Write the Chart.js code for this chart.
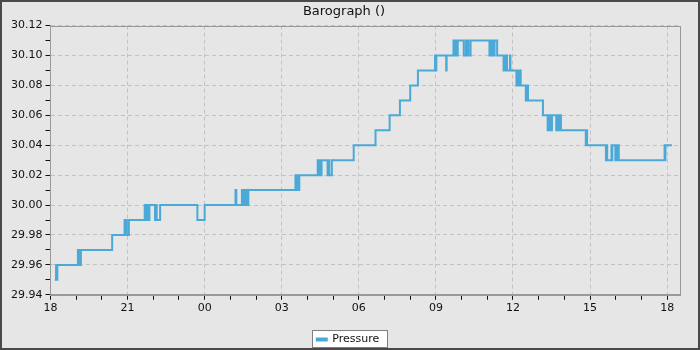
<!DOCTYPE html>
<html>
<head>
<meta charset="utf-8">
<title>Barograph</title>
<script src="https://cdn.jsdelivr.net/npm/chart.js@4/dist/chart.umd.min.js"></script>
<style>
  html, body { margin: 0; padding: 0; background: #e6e6e6; }
  canvas { display: block; }
</style>
</head>
<body>
<canvas id="baro" width="700" height="350"></canvas>
<script>
// readings (time of day, inHg) - only the points where the value changes
const times = [
  '18:10', '18:13', '18:14', '18:16', '19:04', '19:05', '19:07', '19:09', '19:11', '20:24',
  '20:53', '20:54', '20:56', '20:58', '21:03', '21:40', '21:42', '21:45', '21:47', '21:51',
  '22:04', '22:06', '22:08', '22:16', '23:43', '00:00', '01:12', '01:14', '01:27', '01:28',
  '01:30', '01:31', '01:33', '01:35', '01:36', '01:38', '01:42', '03:32', '03:34', '03:36',
  '03:38', '03:41', '04:24', '04:26', '04:28', '04:30', '04:33', '04:47', '04:49', '04:51',
  '04:57', '05:48', '06:39', '07:12', '07:36', '08:00', '08:18', '08:58', '08:59', '09:01',
  '09:24', '09:25', '09:41', '09:43', '09:45', '09:48', '09:51', '10:05', '10:10', '10:11',
  '10:14', '10:16', '10:21', '11:05', '11:07', '11:10', '11:12', '11:15', '11:17', '11:23',
  '11:38', '11:40', '11:42', '11:44', '11:46', '11:53', '11:54', '12:08', '12:10', '12:12',
  '12:14', '12:18', '12:30', '12:32', '12:35', '13:10', '13:21', '13:23', '13:26', '13:27',
  '13:29', '13:31', '13:41', '13:43', '13:46', '13:48', '13:52', '14:50', '14:51', '14:53',
  '15:37', '15:38', '15:40', '15:50', '15:51', '15:52', '15:59', '16:01', '16:03', '16:05',
  '16:07', '17:54', '17:55', '17:56', '18:11'
];
const pressure = [
  29.95, 29.96, 29.95, 29.96, 29.97, 29.96, 29.97, 29.96, 29.97, 29.98,
  29.99, 29.98, 29.99, 29.98, 29.99, 30.00, 29.99, 30.00, 29.99, 30.00,
  29.99, 30.00, 29.99, 30.00, 29.99, 30.00, 30.01, 30.00, 30.01, 30.00,
  30.01, 30.00, 30.01, 30.00, 30.01, 30.00, 30.01, 30.02, 30.01, 30.02,
  30.01, 30.02, 30.03, 30.02, 30.03, 30.02, 30.03, 30.02, 30.03, 30.02,
  30.03, 30.04, 30.05, 30.06, 30.07, 30.08, 30.09, 30.10, 30.09, 30.10,
  30.09, 30.10, 30.11, 30.10, 30.11, 30.10, 30.11, 30.10, 30.11, 30.10,
  30.11, 30.10, 30.11, 30.10, 30.11, 30.10, 30.11, 30.10, 30.11, 30.10,
  30.09, 30.10, 30.09, 30.10, 30.09, 30.10, 30.09, 30.08, 30.09, 30.08,
  30.09, 30.08, 30.07, 30.08, 30.07, 30.06, 30.05, 30.06, 30.05, 30.06,
  30.05, 30.06, 30.05, 30.06, 30.05, 30.06, 30.05, 30.04, 30.05, 30.04,
  30.03, 30.04, 30.03, 30.04, 30.03, 30.04, 30.03, 30.04, 30.03, 30.04,
  30.03, 30.04, 30.03, 30.04, 30.04
];
const hourLabels = ['18', '21', '00', '03', '06', '09', '12', '15', '18'];
const yMin = 29.94, yMax = 30.12;

const LINE = '#4ba9d8';
const GRID = '#c2c2c2';

// hours since 18:00, wrapping past midnight
function toHours(list) {
  let day = 0, last = -1;
  return list.map(t => {
    const [h, m] = t.split(':').map(Number);
    let mins = h * 60 + m;
    if (mins < last) day++;
    last = mins;
    return (mins + day * 1440 - 18 * 60) / 60;
  });
}

const xs = toHours(times);
const points = xs.map((x, i) => ({ x: x, y: pressure[i] }));

const frame = {
  id: 'frame',
  afterLayout(chart) {
    // push the legend down towards the bottom edge, a bit to the right
    const lg = chart.legend, dy = 9, dx = 4;
    lg.top += dy; lg.bottom += dy;
    lg.left += dx; lg.right += dx;
    lg.legendHitBoxes.forEach(b => { b.left += dx; });
  },
  beforeDraw(chart) {
    const ctx = chart.ctx;
    ctx.save();
    ctx.fillStyle = '#e6e6e6';
    ctx.fillRect(0, 0, chart.width, chart.height);
    // white legend box
    const lg = chart.legend;
    if (lg && lg.legendHitBoxes && lg.legendHitBoxes.length) {
      const b = lg.legendHitBoxes[0];
      const x0 = Math.round(b.left) - 5, y0 = Math.round(b.top) - 4;
      const w = Math.round(b.width) + 13, h = Math.round(b.height) + 6;
      ctx.fillStyle = '#ffffff';
      ctx.fillRect(x0, y0, w, h);
      ctx.strokeStyle = '#808080';
      ctx.lineWidth = 1;
      ctx.strokeRect(x0 + 0.5, y0 + 0.5, w, h);
    }
    ctx.restore();
  },
  afterDraw(chart) {
    const ctx = chart.ctx, a = chart.chartArea;
    ctx.save();
    ctx.strokeStyle = '#999999';
    ctx.lineWidth = 1;
    ctx.strokeRect(Math.round(a.left) + 0.5, Math.round(a.top) + 0.5,
      Math.round(a.right - a.left), Math.round(a.bottom - a.top));
    ctx.strokeStyle = '#4a4a4a';
    ctx.lineWidth = 2;
    ctx.strokeRect(1, 1, chart.width - 2, chart.height - 2);
    ctx.restore();
  }
};

const isMajorX = v => Math.round(v) % 3 === 0;
const isMajorY = v => Math.round(v * 100) % 2 === 0;

new Chart(document.getElementById('baro'), {
  type: 'line',
  data: {
    datasets: [{
      label: 'Pressure',
      data: points,
      stepped: true,
      borderColor: LINE,
      backgroundColor: LINE,
      borderWidth: 2,
      pointRadius: 0,
      fill: false
    }]
  },
  options: {
    responsive: false,
    animation: false,
    devicePixelRatio: 1,
    layout: { padding: { left: 8, right: 20, top: 2, bottom: 4 } },
    plugins: {
      title: {
        display: true,
        text: 'Barograph ()',
        color: '#111',
        font: { family: 'DejaVu Sans', size: 13, weight: 'normal' },
        padding: { top: 2, bottom: 6 }
      },
      legend: {
        position: 'bottom',
        labels: {
          color: '#111',
          font: { family: 'DejaVu Sans', size: 11 },
          boxWidth: 10,
          boxHeight: 2,
          padding: 8
        }
      },
      tooltip: { enabled: false }
    },
    scales: {
      x: {
        type: 'linear',
        min: 0,
        max: 24.5,
        border: { color: '#999999', dash: [4, 3] },
        grid: {
          color: c => isMajorX(c.tick.value) && c.tick.value > 0 ? GRID : 'rgba(0,0,0,0)',
          tickColor: '#111',
          tickLength: 5,
          tickBorderDash: []
        },
        ticks: {
          stepSize: 1,
          includeBounds: false,
          autoSkip: false,
          maxRotation: 0,
          color: '#111',
          padding: 2,
          font: { family: 'DejaVu Sans', size: 11 },
          callback: v => isMajorX(v) ? hourLabels[Math.round(v) / 3] : ''
        }
      },
      y: {
        min: yMin,
        max: yMax,
        border: { color: '#999999', dash: [4, 3] },
        grid: {
          color: c => isMajorY(c.tick.value) ? GRID : 'rgba(0,0,0,0)',
          tickColor: '#111',
          tickLength: 5,
          tickBorderDash: []
        },
        ticks: {
          stepSize: 0.01,
          autoSkip: false,
          color: '#111',
          padding: 3,
          font: { family: 'DejaVu Sans', size: 11 },
          callback: v => isMajorY(v) ? v.toFixed(2) : ''
        }
      }
    }
  },
  plugins: [frame]
});
</script>
</body>
</html>
